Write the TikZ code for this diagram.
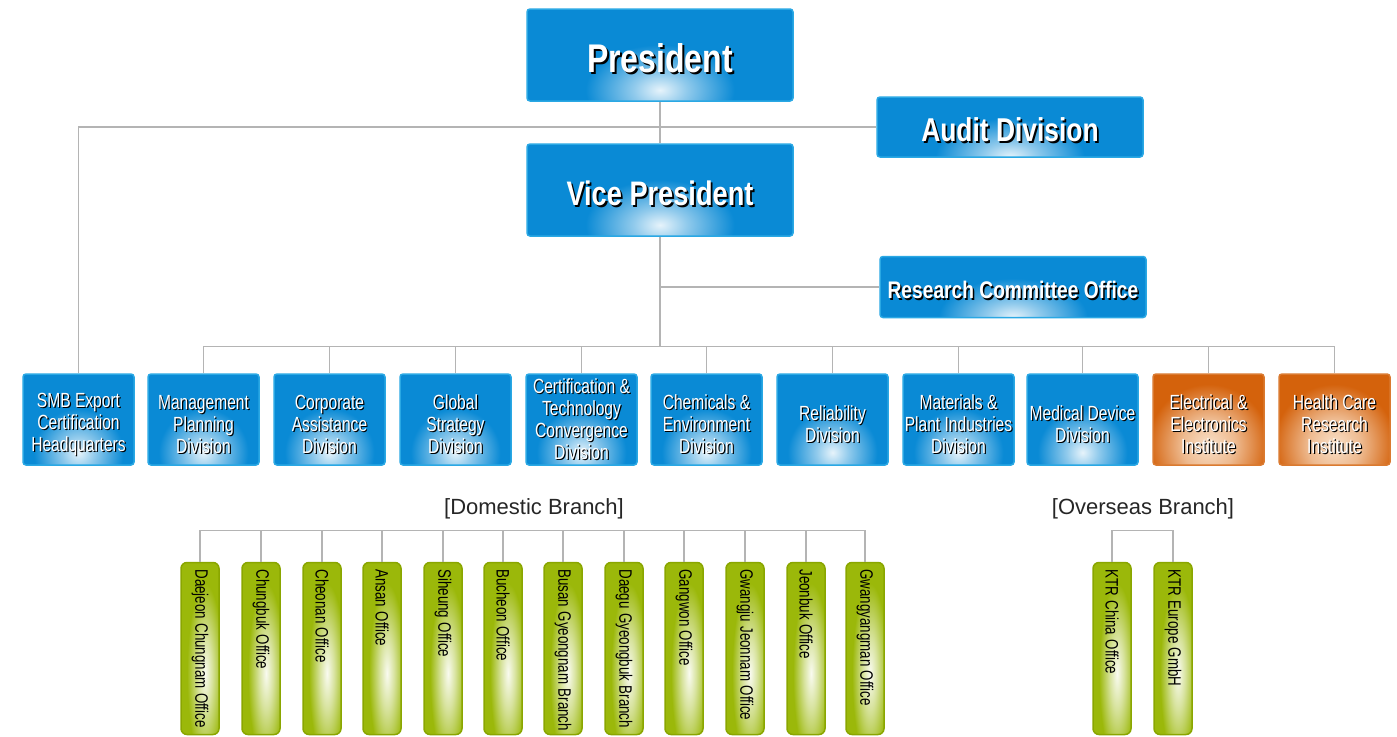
\documentclass[tikz,border=0pt]{standalone}
\usepackage{fontspec}
\usepackage{graphicx}
\setmainfont{Liberation Sans}
\newfontfamily\condfont[FakeStretch=0.8]{Liberation Sans}
\newfontfamily\narrowfont[FakeStretch=0.76]{Liberation Sans}
\definecolor{kblue}{HTML}{0A8AD5}
\definecolor{kblueL}{HTML}{2AA8E4}
\definecolor{korange}{HTML}{D4620C}
\definecolor{kpeach}{HTML}{F9E0C8}
\definecolor{kgreen}{HTML}{9BB80A}
\definecolor{kgreenD}{HTML}{8AA600}
\definecolor{kline}{HTML}{B4B4B4}
\pgfdeclareradialshading{glowblue}{\pgfpoint{0bp}{0bp}}{color(0bp)=(white!90!kblue); color(5bp)=(white!55!kblue); color(14bp)=(kblue); color(50bp)=(kblue)}
\pgfdeclareradialshading{gloworange}{\pgfpoint{0bp}{0bp}}{color(0bp)=(kpeach); color(7bp)=(kpeach!70!korange); color(16bp)=(korange); color(50bp)=(korange)}
\pgfdeclareradialshading{glowgreen}{\pgfpoint{0bp}{0bp}}{color(0bp)=(white!94!kgreen); color(6bp)=(white!60!kgreen); color(15bp)=(kgreen); color(50bp)=(kgreen)}
% white text with a dark drop shadow
\newcommand{\shtxt}[2][1.2pt]{\makebox[0pt][l]{\kern#1\raisebox{-#1}{\color{black}#2}}#2}
% taller first line, sets the division text a bit low
\newcommand{\dstrut}{\rule{0pt}{25pt}}
% narrow text for the branch offices
\newcommand{\brtxt}[1]{\scalebox{0.74}[1]{#1}}
\tikzset{
  link/.style={draw=kline, line width=1.2pt},
  topbox/.style={rectangle, rounded corners=3pt, fill=kblue, draw=kblueL, line width=1.5pt,
    text=white, minimum width=266pt,
    execute at begin node={\rule{0pt}{\dimexpr0.73em+8pt\relax}},
    path picture={\shade[shading=glowblue]
      (path picture bounding box.south) ellipse (125pt and 70pt);}},
  divbox/.style={rectangle, rounded corners=3pt, fill=kblue, draw=kblueL, line width=1.5pt,
    text=white, minimum width=111pt, minimum height=91pt, inner sep=1pt, align=center,
    font=\narrowfont\fontsize{20.5}{22}\selectfont,
    path picture={\shade[shading=glowblue]
      (path picture bounding box.south) ellipse (80pt and 66pt);}},
  instbox/.style={divbox, fill=korange, draw=korange!85!white,
    path picture={\shade[shading=gloworange]
      ([yshift=20pt]path picture bounding box.south) ellipse (95pt and 95pt);}},
  branchbox/.style={rectangle, rotate=-90, rounded corners=6pt, fill=kgreen, draw=kgreenD,
    line width=1.5pt, minimum height=38pt, text width=158pt, inner xsep=7pt, align=left,
    text=black, font=\fontsize{18}{20}\selectfont,
    path picture={\shade[shading=glowgreen]
      ([xshift=25pt, yshift=5pt]path picture bounding box.center) ellipse (150pt and 30pt);}},
  grouplabel/.style={font=\fontsize{22}{24}\selectfont, text=black!85}
}
\begin{document}
\begin{tikzpicture}[x=1pt, y=-1pt]
\useasboundingbox (0,0) rectangle (1397,736);

% top of the chart
\node[topbox, minimum height=92pt, font=\condfont\bfseries\fontsize{40}{44}\selectfont] (pres) at (660,55) {\shtxt[2pt]{President}};
\node[topbox, minimum height=60pt, font=\condfont\bfseries\fontsize{33}{36}\selectfont] (audit) at (1010,127) {\shtxt[1.8pt]{Audit Division}};
\node[topbox, minimum height=92pt, font=\condfont\bfseries\fontsize{34}{38}\selectfont] (vp) at (660,190) {\shtxt[1.8pt]{Vice President}};
\node[topbox, minimum height=61pt, font=\condfont\bfseries\fontsize{24}{28}\selectfont] (rco) at (1013,287) {\shtxt[1.5pt]{Research Committee Office}};

% divisions
\node[divbox] (d1) at (78.5,419.5) {\dstrut\shtxt{SMB Export}\\\shtxt{Certification}\\\shtxt{Headquarters}};
\node[divbox] (d2) at (203.5,419.5) {\dstrut\shtxt{Management}\\\shtxt{Planning}\\\shtxt{Division}};
\node[divbox] (d3) at (329.5,419.5) {\dstrut\shtxt{Corporate}\\\shtxt{Assistance}\\\shtxt{Division}};
\node[divbox] (d4) at (455.5,419.5) {\dstrut\shtxt{Global}\\\shtxt{Strategy}\\\shtxt{Division}};
\node[divbox] (d5) at (581.5,419.5) {\shtxt{Certification \&}\\\shtxt{Technology}\\\shtxt{Convergence}\\\shtxt{Division}};
\node[divbox] (d6) at (706.5,419.5) {\dstrut\shtxt{Chemicals \&}\\\shtxt{Environment}\\\shtxt{Division}};
\node[divbox] (d7) at (832.5,419.5) {\dstrut\shtxt{Reliability}\\\shtxt{Division}};
\node[divbox] (d8) at (958.5,419.5) {\dstrut\shtxt{Materials \&}\\\shtxt{Plant Industries}\\\shtxt{Division}};
\node[divbox] (d9) at (1082.5,419.5) {\dstrut\shtxt{Medical Device}\\\shtxt{Division}};
\node[instbox] (d10) at (1208.5,419.5) {\dstrut\shtxt{Electrical \&}\\\shtxt{Electronics}\\\shtxt{Institute}};
\node[instbox] (d11) at (1334.5,419.5) {\dstrut\shtxt{Health Care}\\\shtxt{Research}\\\shtxt{Institute}};

% branches
\node[grouplabel] (dom) at (534,509) {[Domestic Branch]};
\node[grouplabel] (ovs) at (1143,509) {[Overseas Branch]};
\node[branchbox] (b1) at (200,648.5) {\brtxt{Daejeon Chungnam Office}};
\node[branchbox] (b2) at (261,648.5) {\brtxt{Chungbuk Office}};
\node[branchbox] (b3) at (322,648.5) {\brtxt{Cheonan Office}};
\node[branchbox] (b4) at (382,648.5) {\brtxt{Ansan Office}};
\node[branchbox] (b5) at (443,648.5) {\brtxt{Siheung Office}};
\node[branchbox] (b6) at (503,648.5) {\brtxt{Bucheon Office}};
\node[branchbox] (b7) at (563,648.5) {\brtxt{Busan Gyeongnam Branch}};
\node[branchbox] (b8) at (624,648.5) {\brtxt{Daegu Gyeongbuk Branch}};
\node[branchbox] (b9) at (684,648.5) {\brtxt{Gangwon Office}};
\node[branchbox] (b10) at (745,648.5) {\brtxt{Gwangju Jeonnam Office}};
\node[branchbox] (b11) at (806,648.5) {\brtxt{Jeonbuk Office}};
\node[branchbox] (b12) at (865,648.5) {\brtxt{Gwangyangman Office}};
\node[branchbox] (o1) at (1112,648.5) {\brtxt{KTR China Office}};
\node[branchbox] (o2) at (1173,648.5) {\brtxt{KTR Europe GmbH}};

% connectors
\draw[link] (pres) -- (vp);
\draw[link] (d1.north) |- (audit.west);
\draw[link] (vp.south) |- (rco.west);
\draw[link] (vp.south) -- (vp.south |- 0,347);
\draw[link] (d2.north) -- ++(0,-27) -| (d11.north);
\foreach \i in {3,...,10}
  \draw[link] (d\i.north) -- ++(0,-27);
\draw[link] (b1.west) -- ++(0,-31) -| (b12.west);
\foreach \i in {2,...,11}
  \draw[link] (b\i.west) -- ++(0,-31);
\draw[link] (o1.west) -- ++(0,-31) -| (o2.west);
\end{tikzpicture}
\end{document}
